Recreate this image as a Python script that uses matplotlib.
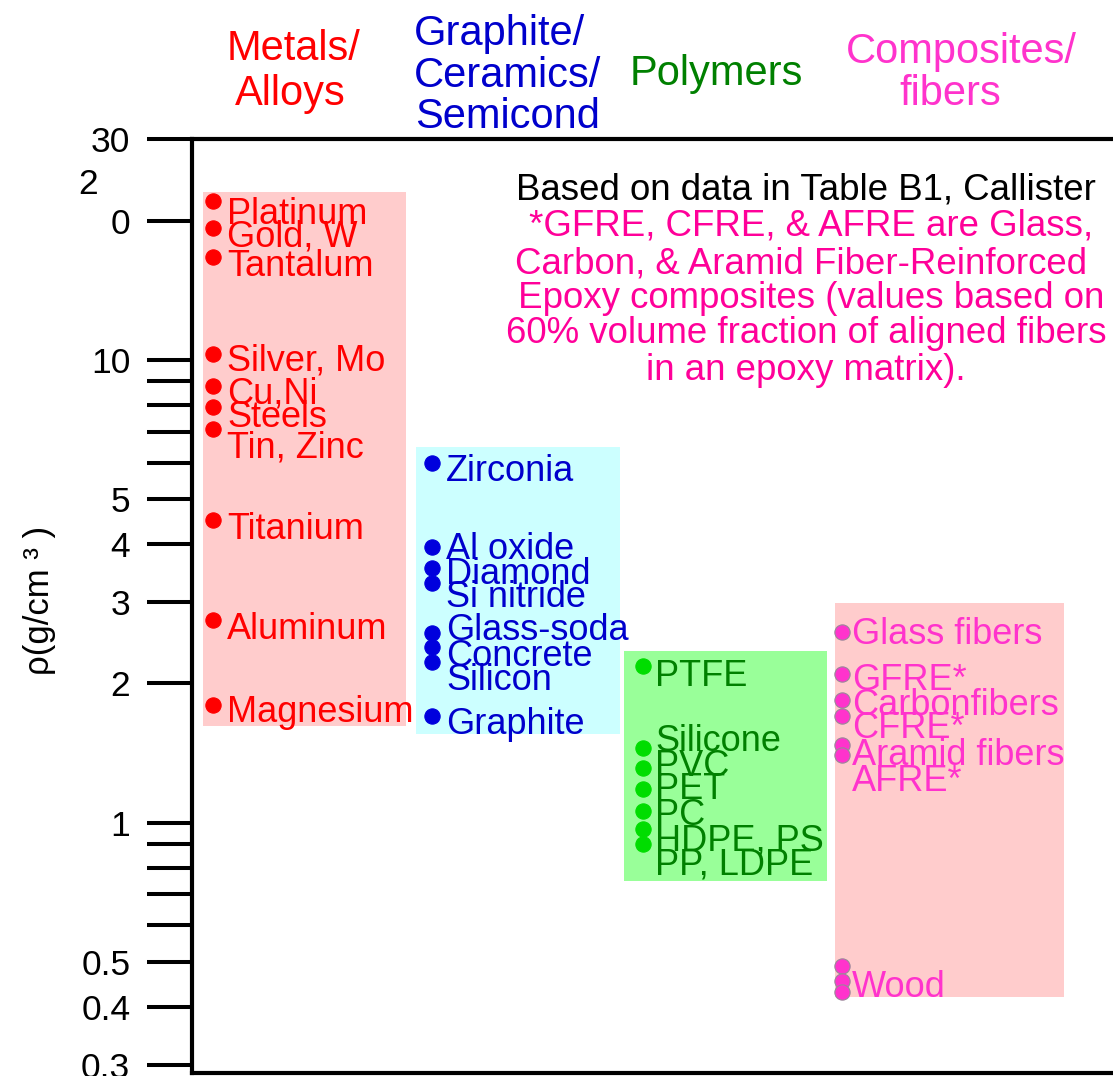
import matplotlib
matplotlib.use('Agg')
import matplotlib.pyplot as plt
from matplotlib.ticker import FixedLocator, FixedFormatter, NullLocator

plt.rcParams['font.family'] = ['Liberation Sans', 'DejaVu Sans']

# densities (g/cm^3)
metals = ['Platinum', 'Gold, W', 'Tantalum', 'Silver, Mo', 'Cu,Ni', 'Steels',
          'Tin, Zinc', 'Titanium', 'Aluminum', 'Magnesium']
metals_rho = [22.0, 19.3, 16.7, 10.3, 8.8, 7.9, 7.1, 4.5, 2.74, 1.80]

ceramics = ['Zirconia', 'Al oxide', 'Diamond', 'Si nitride', 'Glass-soda',
            'Concrete', 'Silicon', 'Graphite']
ceramics_rho = [6.0, 3.95, 3.55, 3.3, 2.57, 2.4, 2.23, 1.7]

polymers = ['PTFE', 'Silicone', 'PVC', 'PET', 'PC', 'HDPE, PS', 'PP, LDPE']
polymers_rho = [2.18, 1.45, 1.31, 1.18, 1.06, 0.97, 0.90]

composites = ['Glass fibers', 'GFRE*', 'Carbonfibers', 'CFRE*', 'Aramid fibers',
              'AFRE*', '', '', 'Wood']
composites_rho = [2.58, 2.1, 1.84, 1.70, 1.47, 1.40, 0.49, 0.455, 0.43]

# shaded range of each class
box_top = [23.1, 6.49, 2.35, 2.98]
box_bottom = [1.62, 1.556, 0.75, 0.42]

yticks = [0.3, 0.4, 0.5, 0.6, 0.7, 0.8, 0.9, 1, 2, 3, 4, 5, 6, 7, 8, 9, 10, 20, 30]
ytick_labels = ['0.3', '0.4', '0.5', '', '', '', '', '1', '2', '3', '4', '5',
                '', '', '', '', '10', '0', '30']

# label baseline drop below each dot, pixels (layout only)
metals_dy = [23, 19, 19, 17, 18, 20, 29, 19, 19, 17]
ceramics_dy = [18, 12, 16, 24, 7, 19, 28, 18]
polymers_dy = [20, 3, 8, 10, 14, 22, 31]
composites_dy = [12, 16, 15, 22, 20, 36, 0, 0, 5]

W, H = 1113, 1076
fig = plt.figure(figsize=(W / 100, H / 100), dpi=100)
ax = fig.add_axes([192 / W, 1 - 1073 / H, (1140 - 192) / W, (1073 - 139) / H])
ax.set_yscale('log')
ax.set_ylim(0.288, 30)
ax.set_xlim(192, 1140)

pink = '#FF33CC'
groups = [
    (metals, metals_rho, metals_dy, '#FF0000', '#FF0000', '#FFCCCC', 203, 406, 213, 14),
    (ceramics, ceramics_rho, ceramics_dy, '#0000DD', '#0000CC', '#CCFFFF', 416, 620, 432, 14),
    (polymers, polymers_rho, polymers_dy, '#00DD00', '#008000', '#99FF99', 624, 827, 643, 12),
    (composites, composites_rho, composites_dy, pink, pink, '#FFCCCC', 835, 1064, 842, 10),
]

for i, (names, rho, dy, dotc, txtc, boxc, x0, x1, xd, dx) in enumerate(groups):
    ax.fill_between([x0, x1], box_bottom[i], box_top[i], color=boxc, lw=0, zorder=1)
    ec = '#998899' if dotc == pink else dotc
    ax.plot([xd] * len(rho), rho, 'o', ms=11, color=dotc, mec=ec, mew=0.8, zorder=3)
    for n, r, d in zip(names, rho, dy):
        if n:
            ax.annotate(n, (xd, r), xytext=(dx * 0.72, -d * 0.72), textcoords='offset points',
                        ha='left', va='baseline', fontsize=26, color=txtc, zorder=4)

ax.yaxis.set_major_locator(FixedLocator(yticks))
ax.yaxis.set_major_formatter(FixedFormatter(ytick_labels))
ax.yaxis.set_minor_locator(NullLocator())
ax.tick_params(axis='y', direction='out', length=32.4, width=2.9, pad=12, labelsize=25.5)
ax.set_xticks([])
for s in ax.spines.values():
    s.set_linewidth(3)


def ftext(x, y, s, **kw):
    fig.text(x / W, 1 - y / H, s, **kw)


ftext(88, 185, '2', ha='center', va='center', fontsize=25.5)
ftext(40, 600, 'ρ(g/cm ³ )', rotation=90, ha='center', va='center', fontsize=25)

# class headers
headers = [
    (['Metals/', 'Alloys'], [294, 290], [60, 105], '#FF0000'),
    (['Graphite/', 'Ceramics/', 'Semicond'], [500, 508, 508], [45, 87, 128], '#0000CC'),
    (['Polymers'], [716], [85], '#008000'),
    (['Composites/', 'fibers'], [961, 950], [63, 105], pink),
]
for lines, xs, ys, c in headers:
    for ln, x, y in zip(lines, xs, ys):
        ftext(x, y, ln, ha='center', va='baseline', fontsize=30, color=c)

note = ['Based on data in Table B1, Callister',
        ' *GFRE, CFRE, & AFRE are Glass,',
        'Carbon, & Aramid Fiber-Reinforced ',
        ' Epoxy composites (values based on',
        '60% volume fraction of aligned fibers',
        'in an epoxy matrix).']
note_y = [200, 235, 273, 308, 343, 380]
for k, (ln, y) in enumerate(zip(note, note_y)):
    ftext(806, y, ln, ha='center', va='baseline', fontsize=26.4,
          color='black' if k == 0 else '#FF0099')

fig.savefig('out.png', dpi=100)
